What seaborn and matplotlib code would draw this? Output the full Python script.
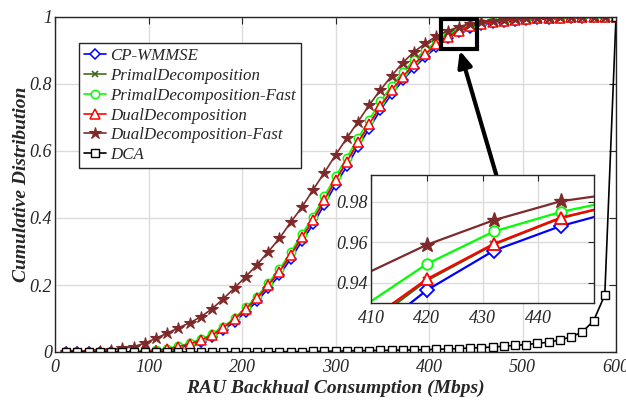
import numpy as np
import pandas as pd
import matplotlib
matplotlib.use("Agg")
import matplotlib.pyplot as plt
import seaborn as sns
from matplotlib.patches import Rectangle
from matplotlib import font_manager as fm

# ---------------- data ----------------
x_mbps = [12 * i for i in range(1, 51)]

dual_fast = [0.000, 0.000, 0.001, 0.003, 0.006, 0.011, 0.016, 0.026, 0.041, 0.056,
             0.072, 0.087, 0.105, 0.129, 0.159, 0.191, 0.225, 0.260, 0.299, 0.339,
             0.387, 0.432, 0.484, 0.535, 0.588, 0.638, 0.687, 0.737, 0.782, 0.824,
             0.864, 0.896, 0.921, 0.943, 0.9587, 0.9709, 0.9803, 0.985, 0.989, 0.992,
             0.994, 0.996, 0.997, 0.998, 0.999, 0.999, 1.000, 1.000, 1.000, 1.000]

dual = [0.000, 0.000, 0.000, 0.000, 0.000, 0.000, 0.001, 0.002, 0.004, 0.009,
        0.016, 0.024, 0.036, 0.050, 0.073, 0.098, 0.129, 0.160, 0.200, 0.240,
        0.290, 0.342, 0.394, 0.454, 0.513, 0.568, 0.626, 0.680, 0.735, 0.782,
        0.822, 0.860, 0.890, 0.918, 0.9417, 0.9592, 0.9722, 0.980, 0.985, 0.989,
        0.992, 0.994, 0.996, 0.997, 0.998, 0.999, 0.999, 1.000, 1.000, 1.000]

primal = [0.000, 0.000, 0.000, 0.000, 0.000, 0.000, 0.001, 0.002, 0.004, 0.008,
          0.015, 0.023, 0.034, 0.048, 0.071, 0.096, 0.127, 0.158, 0.198, 0.238,
          0.288, 0.340, 0.392, 0.452, 0.511, 0.566, 0.624, 0.678, 0.733, 0.780,
          0.820, 0.858, 0.888, 0.916, 0.9410, 0.9588, 0.9719, 0.980, 0.985, 0.989,
          0.992, 0.994, 0.996, 0.997, 0.998, 0.999, 0.999, 1.000, 1.000, 1.000]

primal_fast = [0.000, 0.000, 0.000, 0.000, 0.000, 0.000, 0.001, 0.002, 0.005, 0.010,
               0.017, 0.026, 0.038, 0.053, 0.076, 0.101, 0.133, 0.165, 0.206, 0.247,
               0.298, 0.351, 0.404, 0.465, 0.524, 0.580, 0.638, 0.693, 0.748, 0.795,
               0.835, 0.872, 0.901, 0.927, 0.9492, 0.9653, 0.9750, 0.982, 0.987, 0.990,
               0.993, 0.995, 0.996, 0.997, 0.998, 0.999, 1.000, 1.000, 1.000, 1.000]

cp_wmmse = [0.000, 0.000, 0.000, 0.000, 0.000, 0.000, 0.000, 0.001, 0.003, 0.007,
            0.013, 0.020, 0.031, 0.044, 0.066, 0.090, 0.120, 0.151, 0.190, 0.229,
            0.278, 0.330, 0.381, 0.440, 0.499, 0.554, 0.612, 0.667, 0.722, 0.770,
            0.811, 0.849, 0.881, 0.910, 0.9362, 0.9558, 0.9680, 0.977, 0.982, 0.986,
            0.989, 0.991, 0.993, 0.995, 0.996, 0.997, 0.998, 0.999, 0.999, 1.000]

dca = [0.000, 0.000, 0.000, 0.000, 0.000, 0.000, 0.000, 0.000, 0.000, 0.000,
       0.000, 0.000, 0.000, 0.000, 0.000, 0.000, 0.000, 0.000, 0.000, 0.001,
       0.001, 0.001, 0.002, 0.002, 0.003, 0.003, 0.004, 0.004, 0.005, 0.005,
       0.006, 0.006, 0.007, 0.008, 0.009, 0.010, 0.012, 0.013, 0.015, 0.017,
       0.020, 0.022, 0.026, 0.029, 0.036, 0.045, 0.060, 0.093, 0.170, 1.000]

series_names = ["CP-WMMSE", "PrimalDecomposition", "PrimalDecomposition-Fast",
                "DualDecomposition", "DualDecomposition-Fast", "DCA"]
series_values = [cp_wmmse, primal, primal_fast, dual, dual_fast, dca]

xticks_main = [0, 100, 200, 300, 400, 500, 600]
yticks_main = [0, 0.2, 0.4, 0.6, 0.8, 1.0]
ytick_labels_main = ["0", "0.2", "0.4", "0.6", "0.8", "1"]
xticks_inset = [410, 420, 430, 440]
yticks_inset = [0.94, 0.96, 0.98]

# ---------------- style ----------------
sns.set_theme(style="white")


def pick_italic_family(cands):
    for fam in cands:
        try:
            path = fm.findfont(fm.FontProperties(family=fam, style="italic"),
                               fallback_to_default=False)
        except Exception:
            continue
        p = path.lower()
        if "ital" in p or "oblique" in p or p.endswith("i.ttf"):
            return fam
    return cands[-1]


serif_fam = pick_italic_family(["Liberation Serif", "Noto Serif", "DejaVu Serif"])
plt.rcParams["font.family"] = [serif_fam, "DejaVu Serif"]
plt.rcParams["font.style"] = "italic"

styles = {
    "CP-WMMSE": dict(color="#0000ff", marker="D", mfc="white", ms=5.5, mew=1.1),
    "PrimalDecomposition": dict(color="#3f6b1f", marker="x", mfc="#3f6b1f", ms=5, mew=1.2),
    "PrimalDecomposition-Fast": dict(color="#00ff00", marker="o", mfc="white", ms=6, mew=1.1),
    "DualDecomposition": dict(color="#ff0000", marker="^", mfc="white", ms=6.5, mew=1.1),
    "DualDecomposition-Fast": dict(color="#7f2a2a", marker="*", mfc="#7f2a2a", ms=9, mew=0.8),
    "DCA": dict(color="#000000", marker="s", mfc="white", ms=5.5, mew=1.0),
}

df = pd.DataFrame({"x": np.tile(x_mbps, len(series_names)),
                   "y": np.concatenate(series_values),
                   "series": np.repeat(series_names, len(x_mbps))})

fig = plt.figure(figsize=(6.26, 4.01), dpi=100)
ax = fig.add_axes([55 / 626, 1 - 352 / 401, 561 / 626, 335 / 401])

for name in series_names:
    st = styles[name]
    sub = df[df["series"] == name]
    sns.lineplot(data=sub, x="x", y="y", ax=ax, color=st["color"], marker=st["marker"],
                 markerfacecolor=st["mfc"], markeredgecolor=st["color"],
                 markersize=st["ms"], markeredgewidth=st["mew"], linewidth=1.2,
                 label=name, estimator=None, sort=False)

ax.set_xlim(0, 600)
ax.set_ylim(0, 1)
ax.set_xticks(xticks_main)
ax.set_yticks(yticks_main)
ax.set_yticklabels(ytick_labels_main)
ax.grid(True, color="#dcdcdc", linewidth=1.0)
ax.set_axisbelow(True)
ax.tick_params(direction="in", top=True, right=True, length=5, width=0.8,
               labelsize=13, colors="#262626")
ax.tick_params(axis="x", pad=5)
ax.tick_params(axis="y", pad=2)
for lab in ax.get_xticklabels() + ax.get_yticklabels():
    lab.set_fontstyle("italic")
for sp in ax.spines.values():
    sp.set_color("#262626")
    sp.set_linewidth(1.0)

ax.set_xlabel("RAU Backhual Consumption (Mbps)", fontsize=14, fontweight="bold",
              fontstyle="italic", color="#262626", labelpad=3)
ax.set_ylabel("Cumulative Distribution", fontsize=14, fontweight="bold",
              fontstyle="italic", color="#262626", labelpad=0)

leg = ax.legend(loc="upper left", bbox_to_anchor=(0.043, 0.9215), borderaxespad=0,
                frameon=True, fancybox=False, edgecolor="#262626", framealpha=1,
                prop={"family": serif_fam, "style": "italic", "size": 12.2},
                handlelength=1.3, handletextpad=0.25, labelspacing=0.22,
                borderpad=0.3)
leg.get_frame().set_linewidth(1.0)

# zoom rectangle + arrow on main axes
ax.add_patch(Rectangle((413, 0.904), 38, 0.09, fill=False, edgecolor="black",
                       linewidth=3, zorder=10))
ax.annotate("", xy=(433, 0.900), xytext=(472, 0.528),
            arrowprops=dict(arrowstyle="-|>,head_length=0.8,head_width=0.35",
                            color="black", lw=3, shrinkA=0, shrinkB=0), zorder=10)

# ---------------- inset ----------------
axin = fig.add_axes([371 / 626, 1 - 302.7 / 401, 223.3 / 626, 127.7 / 401])
axin.set_facecolor("white")
for name in series_names:
    st = styles[name]
    sub = df[df["series"] == name]
    sns.lineplot(data=sub, x="x", y="y", ax=axin, color=st["color"], marker=st["marker"],
                 markerfacecolor=st["mfc"], markeredgecolor=st["color"],
                 markersize=st["ms"] * 1.25, markeredgewidth=st["mew"] * 1.2,
                 linewidth=1.6, legend=False, estimator=None, sort=False)
axin.set_xlim(410, 450)
axin.set_ylim(0.93, 0.9933)
axin.set_xticks(xticks_inset)
axin.set_yticks(yticks_inset)
axin.set_xlabel("")
axin.set_ylabel("")
axin.grid(True, color="#dcdcdc", linewidth=1.0)
axin.set_axisbelow(True)
axin.tick_params(direction="in", top=True, right=True, length=4, width=0.8,
                 labelsize=13, colors="#262626")
axin.tick_params(axis="x", pad=5)
axin.tick_params(axis="y", pad=2)
for lab in axin.get_xticklabels() + axin.get_yticklabels():
    lab.set_fontstyle("italic")
for sp in axin.spines.values():
    sp.set_color("#262626")
    sp.set_linewidth(1.0)

fig.savefig("out.png", dpi=100)
